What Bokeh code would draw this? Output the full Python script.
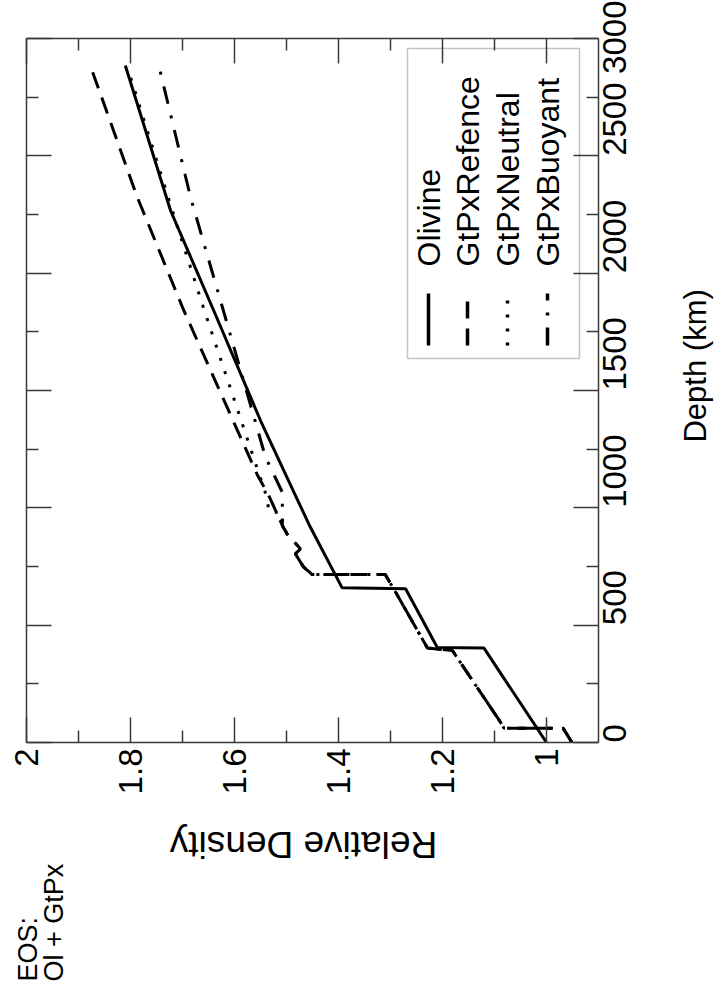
import math
from bokeh.plotting import figure
from bokeh.layouts import column, row
from bokeh.models import (Range1d, LinearAxis, FixedTicker, BoxAnnotation, Label,
                          CustomJSTickFormatter)
from bokeh.core.properties import value
from bokeh.embed import file_html
from bokeh.resources import INLINE

# ---------------- data (relative density vs depth) ----------------
olivine_density = [1.0, 1.1205, 1.210, 1.271, 1.393, 1.454, 1.478, 1.55, 1.64, 1.723, 1.81]
olivine_depth = [0, 403, 405, 655, 659, 917, 1030, 1372, 1841, 2267, 2885]

ref_density = [0.951, 0.968, 1.082, 1.085, 1.181, 1.229, 1.29, 1.306, 1.31, 1.451, 1.467, 1.483,
               1.473, 1.499, 1.508, 1.534, 1.556, 1.6975, 1.787, 1.878]
ref_depth = [0, 61, 61, 75, 392, 403, 640, 700, 716, 716, 747, 804,
             825, 889, 925, 1052, 1140, 1841, 2324, 2889]

neutral_density = [0.951, 0.968, 1.082, 1.085, 1.181, 1.229, 1.29, 1.306, 1.31, 1.451, 1.467, 1.483,
                   1.473, 1.499, 1.508, 1.508, 1.534, 1.537, 1.659, 1.7135, 1.806]
neutral_depth = [0, 61, 61, 75, 392, 403, 640, 700, 716, 716, 747, 804,
                 825, 889, 925, 981, 981, 1040, 1848, 2224, 2878]

buoyant_density = [0.951, 0.968, 1.082, 1.085, 1.181, 1.229, 1.29, 1.306, 1.31, 1.451, 1.467, 1.483,
                   1.473, 1.499, 1.508, 1.508, 1.5404, 1.614, 1.6846, 1.7456]
buoyant_depth = [0, 61, 61, 75, 392, 403, 640, 700, 716, 716, 747, 804,
                 825, 889, 925, 1066, 1216, 1784, 2324, 2885]

series_names = ["Olivine", "GtPxRefence", "GtPxNeutral", "GtPxBuoyant"]

depth_ticks = [0, 500, 1000, 1500, 2000, 2500, 3000]
depth_tick_labels = ["0", "500", "1000", "1500", "2000", "2500", "3000"]
depth_minor = [250, 750, 1250, 1750, 2250, 2750]
density_ticks = [1.0, 1.2, 1.4, 1.6, 1.8, 2.0]
density_tick_labels = ["1", "1.2", "1.4", "1.6", "1.8", "2"]
density_minor = [1.1, 1.3, 1.5, 1.7, 1.9]

x_title = "Relative Density"
y_title = "Depth (km)"
note_lines = ["EOS:", "Ol + GtPx"]

# ---------------- layout constants ----------------
W, H = 722, 995
W_MAIN, H_MAIN = 660, 800
FL, FT, FW, FH = 26, 38, 572, 704
X0, X1 = 2.0, 0.9
Y0, Y1 = 0, 3000
FONT = "Liberation Sans"
AX = "#3a3a3a"


def dx(px):
    return X0 + (px - FL) * (X1 - X0) / FW


def dy(py):
    return Y0 + (FT + FH - py) * (Y1 - Y0) / FH


p = figure(width=W_MAIN, height=H_MAIN, x_range=Range1d(X0, X1), y_range=Range1d(Y0, Y1),
           output_backend="svg", toolbar_location=None,
           x_axis_location="below", y_axis_location="right",
           min_border_left=FL, min_border_right=W_MAIN - FL - FW,
           min_border_top=FT, min_border_bottom=H_MAIN - FT - FH)
p.grid.visible = False
p.outline_line_color = None
p.background_fill_color = "white"
p.border_fill_color = "white"


def style_axis(ax):
    ax.axis_line_color = AX
    ax.axis_line_width = 1.5
    ax.major_tick_in = 25
    ax.major_tick_out = 0
    ax.minor_tick_in = 12
    ax.minor_tick_out = 0
    ax.major_tick_line_color = AX
    ax.major_tick_line_width = 1.5
    ax.minor_tick_line_color = AX
    ax.minor_tick_line_width = 1.5
    ax.major_label_text_font = FONT
    ax.major_label_text_font_size = "33px"
    ax.major_label_text_color = "black"


xax = p.xaxis[0]
xax.ticker = FixedTicker(ticks=density_ticks, minor_ticks=density_minor)
xax.major_label_overrides = dict(zip(density_ticks, density_tick_labels))
style_axis(xax)
xax.major_label_orientation = math.pi / 2
xax.major_label_standoff = 6

yax = p.yaxis[0]
yax.ticker = FixedTicker(ticks=depth_ticks, minor_ticks=depth_minor)
yax.major_label_overrides = dict(zip(depth_ticks, depth_tick_labels))
style_axis(yax)
yax.major_label_orientation = math.pi / 2
yax.major_label_standoff = 16

blank = CustomJSTickFormatter(code="return ''")
top = LinearAxis(ticker=FixedTicker(ticks=density_ticks, minor_ticks=density_minor), formatter=blank)
style_axis(top)
p.add_layout(top, "above")
left = LinearAxis(ticker=FixedTicker(ticks=depth_ticks, minor_ticks=depth_minor), formatter=blank)
style_axis(left)
p.add_layout(left, "left")

# ---------------- curves ----------------
styles = [
    dict(line_dash="solid"),
    dict(line_dash="17 10"),
    dict(line_dash="3 11"),
    dict(line_dash="18 12 3 12"),
]
series = [(olivine_density, olivine_depth), (ref_density, ref_depth),
          (neutral_density, neutral_depth), (buoyant_density, buoyant_depth)]
for (xs, ys), st in zip(series, styles):
    p.line(x=xs, y=ys, line_color="black", line_width=3, **st)

# ---------------- legend (rotated, drawn by hand) ----------------
box = BoxAnnotation(left=dx(407), right=dx(579), top=dy(48), bottom=dy(358),
                    fill_color="white", fill_alpha=1.0, line_color=AX, line_width=1.5,
                    level="underlay")
p.add_layout(box)
leg_x = [428, 467, 507, 547]
for name, st, lx in zip(series_names, styles, leg_x):
    p.line(x=[dx(lx), dx(lx)], y=[dy(345), dy(293)], line_color="black", line_width=3.5, **st)
    p.add_layout(Label(x=dx(lx), y=dy(266), text=name, angle=math.pi / 2,
                       text_align="left", text_baseline="middle",
                       text_font=FONT, text_font_size="32px", text_color="black"))


def text_panel(width, height):
    f = figure(width=width, height=height, x_range=Range1d(0, width), y_range=Range1d(0, height),
               output_backend="svg", toolbar_location=None,
               x_axis_location=None, y_axis_location=None, min_border=0)
    f.grid.visible = False
    f.outline_line_color = None
    f.border_fill_color = "white"
    f.background_fill_color = "white"
    return f


# ---------------- depth title (right strip) ----------------
RW = W - W_MAIN
r = text_panel(RW, H_MAIN)
r.text(x=[695 - W_MAIN], y=[H_MAIN - 372], text=[y_title], angle=math.pi / 2,
       text_align="center", text_baseline="middle", text_font=value(FONT),
       text_font_size="31px", text_color="black")

# ---------------- density title and EOS note (bottom strip) ----------------
BH = H - H_MAIN
b = text_panel(W, BH)
b.text(x=[303], y=[BH - (844 - H_MAIN)], text=[x_title], angle=math.pi,
       text_align="center", text_baseline="middle", text_font=value(FONT),
       text_font_size="37px", text_color="black")
b.text(x=[27, 53], y=[BH - (981 - H_MAIN)] * 2, text=note_lines, angle=math.pi / 2,
       text_align="left", text_baseline="middle", text_font=value(FONT),
       text_font_size="27px", text_color="black")

layout = column(row(p, r, spacing=0), b, spacing=0)
open("out.html", "w").write(file_html(layout, INLINE))
